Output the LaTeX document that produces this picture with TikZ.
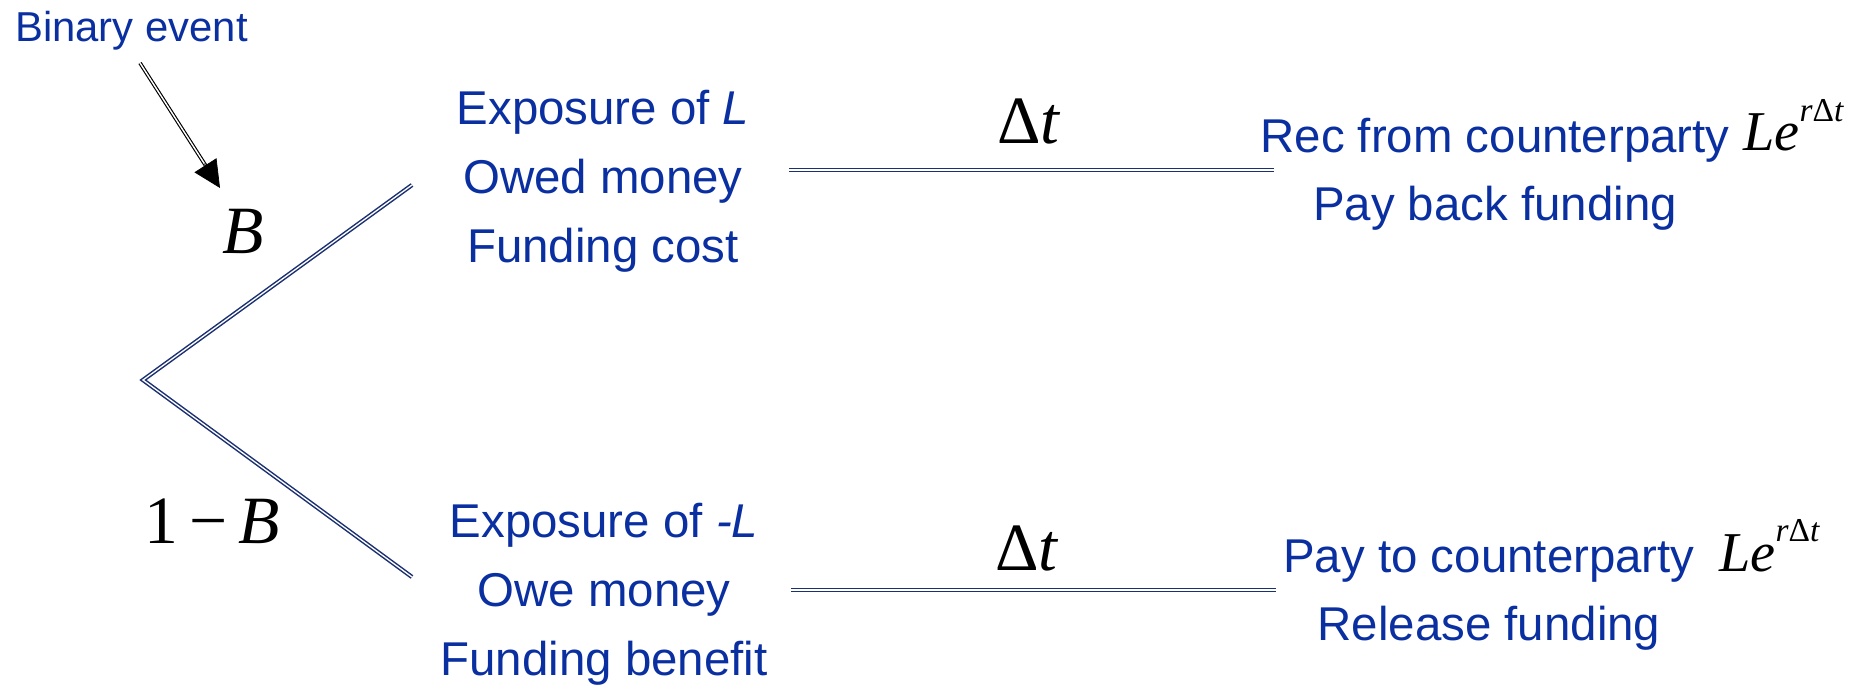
\documentclass[tikz,border=0pt]{standalone}
\usepackage{fontspec}
\setmainfont{Liberation Sans}
\newfontfamily\serifmath{Liberation Serif}
\usepackage{tikz}
\usetikzlibrary{arrows.meta,positioning,calc}
\definecolor{txtblue}{HTML}{0A2FA0}
\definecolor{treeblue}{HTML}{1A3070}
\newcommand{\Lexp}{{\serifmath\fontsize{32}{34}\selectfont\itshape Le\raisebox{17pt}{\fontsize{19}{19}\selectfont r\upshape Δ\itshape t}}}

\begin{document}
\begin{tikzpicture}[
  x=0.02cm,y=-0.02cm,
  bt/.style={text=txtblue,inner sep=0pt,align=center},
  midtxt/.style={bt,font=\fontsize{27}{39}\selectfont},
  endtxt/.style={bt,font=\fontsize{27}{38.5}\selectfont},
  mt/.style={inner sep=0pt,font=\serifmath\fontsize{38.5}{40}\selectfont},
  branch/.style={draw=treeblue,double=white,double distance=0.75pt,line width=0.85pt},
  evline/.style={draw=black,double=white,double distance=0.8pt,line width=0.65pt}
]
\useasboundingbox (0,0) rectangle (1865,686);
\node[bt,font=\fontsize{23.8}{28}\selectfont,anchor=base] (event) at (131.5,42) {Binary event};
\node[mt,anchor=base] (bup) at (243,253) {\itshape B};
\node[mt,anchor=base] (bdown) at (212,543) {1\,−\,\textit{B}};
% base of a multi-line node = last line
\node[midtxt,anchor=base] (expup) at (603,262) {Exposure of \textit{L}\\Owed money\\Funding cost};
\node[midtxt,anchor=base] (expdown) at (604,675) {Exposure of \textit{-L}\\Owe money\\Funding benefit};
\node[mt,anchor=base] (dtup) at (1029,143) {Δ\textit{t}};
\node[mt,anchor=base] (dtdown) at (1027,570) {Δ\textit{t}};
\node[endtxt,anchor=base] (recv) at (1495,220) {Rec from counterparty\\Pay back funding};
\node[endtxt,anchor=base] (payc) at (1489,640) {Pay to counterparty\\Release funding};
\node[inner sep=0pt,anchor=base west] (lup) at (1743,151) {\Lexp};
\node[inner sep=0pt,anchor=base west] (ldown) at (1719,571) {\Lexp};

\coordinate (root) at (143,380);
\coordinate (upend) at (412,185);
\coordinate (downend) at (412,577);
\coordinate (hup1) at (789,170);
\coordinate (hup2) at (1274,170);
\coordinate (hdown1) at (791,590);
\coordinate (hdown2) at (1276,590);
\coordinate (evtail) at (140,63);
\coordinate (evtip) at (220,188);

\draw[branch] (upend) -- (root) -- (downend);
\draw[branch] (hup1) -- (hup2);
\draw[branch] (hdown1) -- (hdown2);
\draw[evline,shorten >=0.48cm] (evtail) -- (evtip);
\draw[-{Triangle[length=0.54cm,width=0.52cm]},line width=0.4pt] ($(evtip)!0.58cm!(evtail)$) -- (evtip);
\end{tikzpicture}
\end{document}
